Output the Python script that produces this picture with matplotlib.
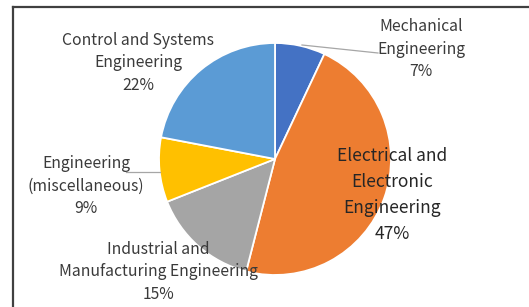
import matplotlib.pyplot as plt
from matplotlib.lines import Line2D

plt.rcParams['font.family'] = ['Noto Sans CJK SC', 'DejaVu Sans']

categories = ['Mechanical\nEngineering', 'Electrical and\nElectronic\nEngineering',
              'Industrial and\nManufacturing Engineering', 'Engineering\n(miscellaneous)',
              'Control and Systems\nEngineering']
shares = [7, 47, 15, 9, 22]
colors = ['#4472C4', '#ED7D31', '#A5A5A5', '#FFC000', '#5B9BD5']

W, H = 529, 307
cx, cy, R = 275, 159, 116  # pie centre and radius in pixels


def px(x, y):
    # pixel position -> data position (pie radius = 1)
    return (x - cx) / R, (cy - y) / R


fig = plt.figure(figsize=(W / 100, H / 100), dpi=100)
ax = fig.add_axes([0, 0, 1, 1])
ax.pie(shares, colors=colors, startangle=90, counterclock=False, radius=1,
       wedgeprops=dict(edgecolor='white', linewidth=1.3))
ax.set_aspect('auto')
ax.set_xlim(-cx / R, (W - cx) / R)
ax.set_ylim((cy - H) / R, cy / R)
ax.axis('off')

# label positions (pixels), font sizes, line spacing
label_pos = [(421, 49), (392, 195), (158, 272), (86, 186), (138, 63)]
label_size = [11.3, 12.5, 11.3, 11.3, 11.3]
for cat, v, (lx, ly), fs in zip(categories, shares, label_pos, label_size):
    x, y = px(lx, ly)
    big = fs > 12
    ax.text(x, y, f'{cat}\n{v}%', ha='center', va='center', fontsize=fs,
            color='#262626' if big else '#3a3a3a',
            linespacing=1.55 if big else 1.42)

# leader lines
for (x0, y0), (x1, y1) in [((302, 45), (378, 53)), ((126, 172), (160, 172))]:
    a, b = px(x0, y0)
    c, d = px(x1, y1)
    ax.plot([a, c], [b, d], color='#a6a6a6', lw=0.9)

# chart border (left and top visible)
fig.add_artist(Line2D([13 / W, 13 / W], [0, 1 - 7 / H], color='#404040', lw=1.6,
                      transform=fig.transFigure))
fig.add_artist(Line2D([13 / W, 1], [1 - 7 / H, 1 - 7 / H], color='#404040', lw=1.6,
                      transform=fig.transFigure))

fig.savefig('out.png', dpi=100)
